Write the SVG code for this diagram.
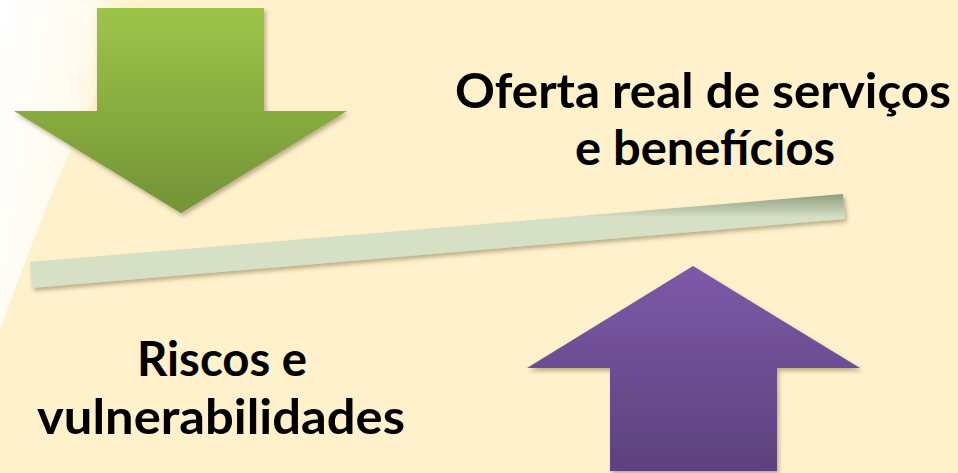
<svg xmlns="http://www.w3.org/2000/svg" width="958" height="473" viewBox="0 0 958 473">
<defs>
<linearGradient id="gGreen" x1="0" y1="0" x2="0" y2="1">
<stop offset="0" stop-color="#9DC548"/>
<stop offset="1" stop-color="#739337"/>
</linearGradient>
<linearGradient id="gPurple" x1="0" y1="0" x2="0" y2="1">
<stop offset="0" stop-color="#7D59A8"/>
<stop offset="1" stop-color="#5D417E"/>
</linearGradient>
<linearGradient id="gBar" x1="0" y1="0" x2="0" y2="1">
<stop offset="0" stop-color="#8E9C7C"/>
<stop offset="0.25" stop-color="#D5E0C5"/>
<stop offset="1" stop-color="#D5E0C5"/>
</linearGradient>
<linearGradient id="gGlow" x1="0" y1="0" x2="1" y2="0.4">
<stop offset="0" stop-color="#FFFFFF" stop-opacity="1"/>
<stop offset="0.55" stop-color="#FFFFFF" stop-opacity="0.7"/>
<stop offset="1" stop-color="#FFF1CC" stop-opacity="0"/>
</linearGradient>
<filter id="shadow" x="-10%" y="-10%" width="130%" height="130%">
<feDropShadow dx="2" dy="3" stdDeviation="2" flood-color="#6b5a3a" flood-opacity="0.45"/>
</filter>
<style>
.lbl{font-family:Lato,"Open Sans","Liberation Sans",sans-serif;font-weight:bold;font-size:47px;fill:#000;text-anchor:middle}
</style>
</defs>
<rect width="958" height="473" fill="#FFF1CC"/>
<path d="M0,0 L140,0 C100,80 50,190 0,330 Z" fill="url(#gGlow)"/>
<g id="arrow-down" filter="url(#shadow)">
<polygon points="97,8 264,8 264,111 347,111 181,213 14,111 97,111" fill="url(#gGreen)"/>
</g>
<g id="arrow-up" filter="url(#shadow)">
<polygon points="693,266 860,368 777,368 777,471 610,471 610,368 527,368" fill="url(#gPurple)"/>
</g>
<g id="bar" filter="url(#shadow)">
<polygon points="30,262 843,194 845,219 32,288" fill="url(#gBar)"/>
</g>
<g id="label-oferta">
<text class="lbl" x="703" y="108" textLength="496" lengthAdjust="spacingAndGlyphs">Oferta real de serviços</text>
<text class="lbl" x="705" y="165" textLength="260" lengthAdjust="spacingAndGlyphs">e benefícios</text>
</g>
<g id="label-riscos">
<text class="lbl" x="222" y="376" textLength="170" lengthAdjust="spacingAndGlyphs">Riscos e</text>
<text class="lbl" x="221" y="434" textLength="368" lengthAdjust="spacingAndGlyphs">vulnerabilidades</text>
</g>
</svg>
